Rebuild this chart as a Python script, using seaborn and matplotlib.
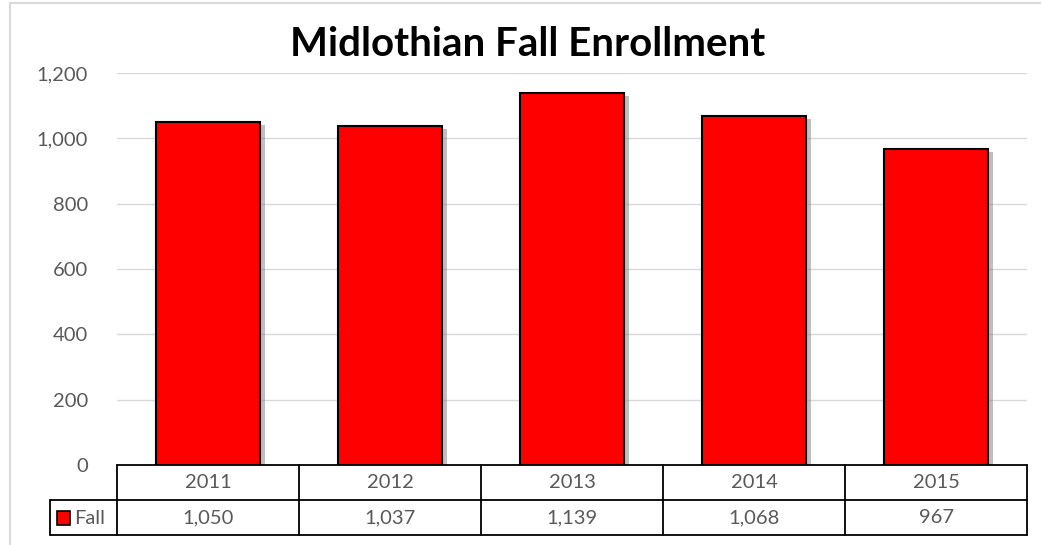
import matplotlib
matplotlib.use('Agg')
import matplotlib.pyplot as plt
import matplotlib.patheffects as pe
from matplotlib.patches import Rectangle
from matplotlib.lines import Line2D
import seaborn as sns
import pandas as pd

years = ['2011', '2012', '2013', '2014', '2015']
fall = [1050, 1037, 1139, 1068, 967]
series_name = 'Fall'
title = 'Midlothian Fall Enrollment'

sns.set_style('white')
plt.rcParams['font.family'] = ['Lato', 'DejaVu Sans']

W, H = 1041, 545
fig = plt.figure(figsize=(W / 100, H / 100), dpi=100)

# plot area in pixels
x0, x1 = 117, 1027
y_top, y_zero = 73, 465
ax = fig.add_axes([x0 / W, 1 - y_zero / H, (x1 - x0) / W, (y_zero - y_top) / H])

df = pd.DataFrame({'year': years, 'value': fall})
sns.barplot(data=df, x='year', y='value', color='#FF0000', width=0.57,
            edgecolor='black', linewidth=1.5, saturation=1, ax=ax, zorder=3)
for bar in ax.patches:
    bar.set_path_effects([pe.SimplePatchShadow(offset=(4, -2), shadow_rgbFace='#808080', alpha=0.5),
                          pe.Normal()])

tick_fs = 14.5
ax.set_ylim(0, 1200)
ax.set_xlim(-0.5, len(years) - 0.5)
ax.set_yticks(range(0, 1201, 200))
ax.set_yticklabels([f'{v:,}' for v in range(0, 1201, 200)], color='#595959', fontsize=tick_fs)
ax.tick_params(axis='y', length=0, pad=21)
ax.set_xticks([])
ax.set_xlabel('')
ax.set_ylabel('')
ax.grid(axis='y', color='#D9D9D9', linewidth=1, zorder=0)
for s in ax.spines.values():
    s.set_visible(False)


def fx(px):
    return px / W


def fy(py):
    return 1 - py / H


fig.text(fx(528), fy(45), title, ha='center', va='center', fontsize=29,
         fontweight='bold', color='black')

# data table below the plot area
row1 = (465, 500)
row2 = (500, 535)
tab_left = 50
col_w = (x1 - x0) / len(years)

lw = 1.3
lines = [
    ((x0, x1), (row1[0], row1[0])),
    ((tab_left, x1), (row2[0], row2[0])),
    ((tab_left, x1), (row2[1], row2[1])),
    ((tab_left, tab_left), (row2[0], row2[1])),
]
for i in range(len(years) + 1):
    xx = x0 + i * col_w
    lines.append(((xx, xx), (row1[0], row2[1])))
for (xs, ys) in lines:
    fig.add_artist(Line2D([fx(xs[0]), fx(xs[1])], [fy(ys[0]), fy(ys[1])],
                          color='black', linewidth=lw, transform=fig.transFigure))

for i, (yr, v) in enumerate(zip(years, fall)):
    cx = x0 + (i + 0.5) * col_w
    fig.text(fx(cx), fy((row1[0] + row1[1]) / 2), yr, ha='center', va='center',
             fontsize=tick_fs, color='#595959')
    fig.text(fx(cx), fy((row2[0] + row2[1]) / 2), f'{v:,}', ha='center', va='center',
             fontsize=tick_fs, color='#595959')

# legend key in table
fig.add_artist(Rectangle((fx(57), fy(525)), 13 / W, 14 / H, facecolor='#FF0000',
                         edgecolor='black', linewidth=1.2, transform=fig.transFigure))
fig.text(fx(74), fy(518), series_name, ha='left', va='center', fontsize=tick_fs, color='#595959')

# chart border (top and left visible)
fig.add_artist(Line2D([fx(10), 1], [fy(3), fy(3)], color='#D9D9D9', linewidth=1.5,
                      transform=fig.transFigure))
fig.add_artist(Line2D([fx(10), fx(10)], [fy(3), 0], color='#D9D9D9', linewidth=1.5,
                      transform=fig.transFigure))

fig.savefig('out.png', dpi=100)
